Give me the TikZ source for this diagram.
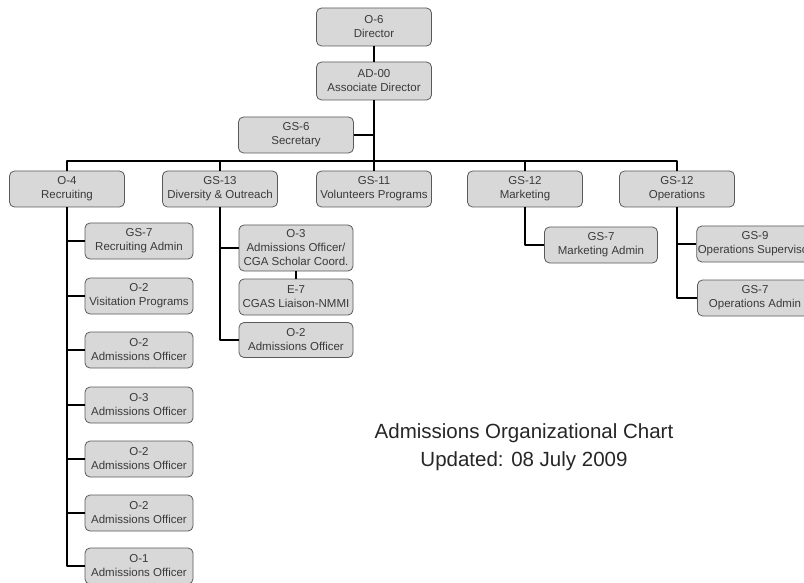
\documentclass[tikz,border=0pt]{standalone}
\usepackage{fontspec}
\setmainfont{Liberation Sans}
\definecolor{boxfill}{HTML}{D8D8D8}
\definecolor{boxline}{HTML}{5A5A5A}
\definecolor{boxtext}{HTML}{3A3A3A}
\begin{document}
\begin{tikzpicture}[x=1pt, y=-1pt, line join=round,
	box/.style={draw=boxline, line width=0.8pt, fill=boxfill, rounded corners=5pt, minimum width=115pt, minimum height=36pt, align=center, inner sep=1pt, text=boxtext, font=\fontsize{11.5}{14}\selectfont},
	link/.style={line width=1.8pt, black},
	title/.style={font=\fontsize{20.5}{24}\selectfont, text=black!85}]
	
	\useasboundingbox (0,0) rectangle (804,583);
	\clip (0,0) rectangle (804,583);
	
	% top of the chart
	\node[box, minimum height=38pt] (dir) at (374,27) {O-6\\Director};
	\node[box, minimum height=38pt] (assoc) at (374,81) {AD-00\\Associate Director};
	\node[box] (sec) at (296,135) {GS-6\\Secretary};
	
	% departments
	\node[box] (rec) at (67,189) {O-4\\Recruiting};
	\node[box] (div) at (220,189) {GS-13\\Diversity \& Outreach};
	\node[box] (vol) at (374,189) {GS-11\\Volunteers Programs};
	\node[box] (mkt) at (525,189) {GS-12\\Marketing};
	\node[box] (ops) at (677,189) {GS-12\\Operations};
	
	\coordinate (bar) at (374,161);
	
	\draw[link] (dir) -- (assoc);
	\draw[link] (assoc) -- (vol);
	\draw[link] (sec.east) -- (sec.east -| assoc.south);
	\draw[link] (rec.north) |- (bar) -| (ops.north);
	\foreach \d in {div, mkt} {
		\draw[link] (\d.north) -- (\d.north |- bar);
	}
	
	% recruiting staff
	\foreach \i/\y/\grade/\role in {1/241/GS-7/Recruiting Admin, 2/296/O-2/Visitation Programs, 3/350/O-2/Admissions Officer, 4/405/O-3/Admissions Officer, 5/459/O-2/Admissions Officer, 6/513/O-2/Admissions Officer, 7/566/O-1/Admissions Officer} {
		\node[box, minimum width=108pt] (rc\i) at (139,\y) {\grade\\\role};
		\draw[link] (rec.south) |- (rc\i.west);
	}
	
	% diversity staff
	\node[box, minimum width=114pt, minimum height=46pt] (dvo3) at (296,248) {O-3\\Admissions Officer/\\CGA Scholar Coord.};
	\node[box, minimum width=114pt] (dve7) at (296,297) {E-7\\CGAS Liaison-NMMI};
	\node[box, minimum width=114pt, minimum height=35pt] (dvo2) at (296,340) {O-2\\Admissions Officer};
	\draw[link] (div.south) |- (dvo3.west);
	\draw[link] (div.south) |- (dvo2.west);
	\draw[line width=1.2pt] (dvo3.south) -- (dve7.north);
	
	% marketing staff
	\node[box, minimum width=113pt] (mka) at (601,245) {GS-7\\Marketing Admin};
	\draw[link] (mkt.south) |- (mka.west);
	
	% operations staff
	\node[box] (opsup) at (755,244) {GS-9\\Operations Supervisor};
	\node[box] (opadm) at (755,298) {GS-7\\Operations Admin};
	\draw[link] (ops.south) |- (opsup.west);
	\draw[link] (ops.south) |- (opadm.west);
	
	\node[title] (ttl) at (524,433) {Admissions Organizational Chart};
	\node[title] (upd) at (524,461) {Updated: 08 July 2009};
	
\end{tikzpicture}
\end{document}
